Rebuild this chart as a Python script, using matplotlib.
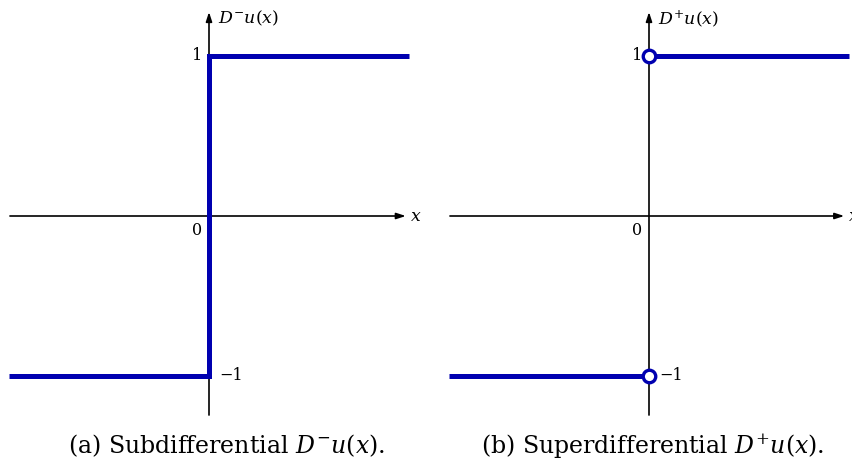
import matplotlib
matplotlib.use("Agg")
import matplotlib.pyplot as plt

plt.rcParams["font.family"] = ["DejaVu Serif"]
plt.rcParams["mathtext.fontset"] = "dejavuserif"

# Set-valued derivative data
left_x = [-1.25, 0.0]       # x-range of the branch x < 0
right_x = [0.0, 1.25]       # x-range of the branch x > 0
left_val = -1.0             # value for x < 0
right_val = 1.0             # value for x > 0
sub_jump = [-1.0, 1.0]      # subdifferential at x = 0 fills [-1, 1]
open_pts_y = [1.0, -1.0]    # superdifferential empty at 0: open endpoints

BLUE = "#0000b0"
W, H = 853, 467
fig = plt.figure(figsize=(W / 100, H / 100), dpi=100)

scale = 160.0  # pixels per data unit
TICK_FS = 11.5
NAME_FS = 12.5


def make_axes(px_left, px_right, px_zero_x, px_top, px_bottom, px_zero_y):
    ax = fig.add_axes([px_left / W, 1 - px_bottom / H,
                       (px_right - px_left) / W, (px_bottom - px_top) / H])
    ax.set_xlim(-(px_zero_x - px_left) / scale, (px_right - px_zero_x) / scale)
    ax.set_ylim(-(px_bottom - px_zero_y) / scale, (px_zero_y - px_top) / scale)
    ax.axis("off")
    return ax


def draw_axes(ax, xlabel_end, ylabel):
    arrow = dict(arrowstyle="-|>,head_length=0.55,head_width=0.18",
                 lw=1.2, color="black", shrinkA=0, shrinkB=0)
    ax.annotate("", xy=(xlabel_end, 0), xytext=(-1.244, 0), arrowprops=arrow, zorder=1)
    ax.annotate("", xy=(0, 1.275), xytext=(0, -1.244), arrowprops=arrow, zorder=1)
    ax.text(xlabel_end + 0.025, 0.0, r"$x$", fontsize=NAME_FS, va="center", ha="left")
    ax.text(0.055, 1.235, ylabel, fontsize=NAME_FS, va="center", ha="left")
    ax.text(-0.04, 1.0, "1", fontsize=TICK_FS, va="center", ha="right")
    ax.text(-0.045, -0.09, "0", fontsize=TICK_FS, va="center", ha="right")
    ax.text(0.065, -1.0, "−1", fontsize=TICK_FS, va="center", ha="left")


line_kw = dict(color=BLUE, lw=3.6, solid_capstyle="butt",
               solid_joinstyle="miter", zorder=3)

# (a) subdifferential: a single connected step through the whole interval at 0
ax1 = make_axes(0, 426.5, 209, 0, 420, 216)
draw_axes(ax1, 1.23, r"$D^{-}u(x)$")
ax1.plot(left_x + right_x,
         [left_val, left_val, sub_jump[1], right_val], **line_kw)

# (b) superdifferential: two branches with open endpoints at 0
ax2 = make_axes(426.5, 853, 649, 0, 420, 216)
draw_axes(ax2, 1.22, r"$D^{+}u(x)$")
ax2.plot(left_x, [left_val, left_val], **line_kw)
ax2.plot(right_x, [right_val, right_val], **line_kw)
ax2.plot([0.0, 0.0], open_pts_y, "o", ms=9, mfc="white", mec=BLUE,
         mew=2.4, zorder=4, clip_on=False)

fig.text(226 / W, 1 - 446 / H, r"(a) Subdifferential $D^{-}u(x)$.",
         fontsize=17, ha="center", va="center")
fig.text(653 / W, 1 - 446 / H, r"(b) Superdifferential $D^{+}u(x)$.",
         fontsize=17, ha="center", va="center")

fig.savefig("out.png", dpi=100)
